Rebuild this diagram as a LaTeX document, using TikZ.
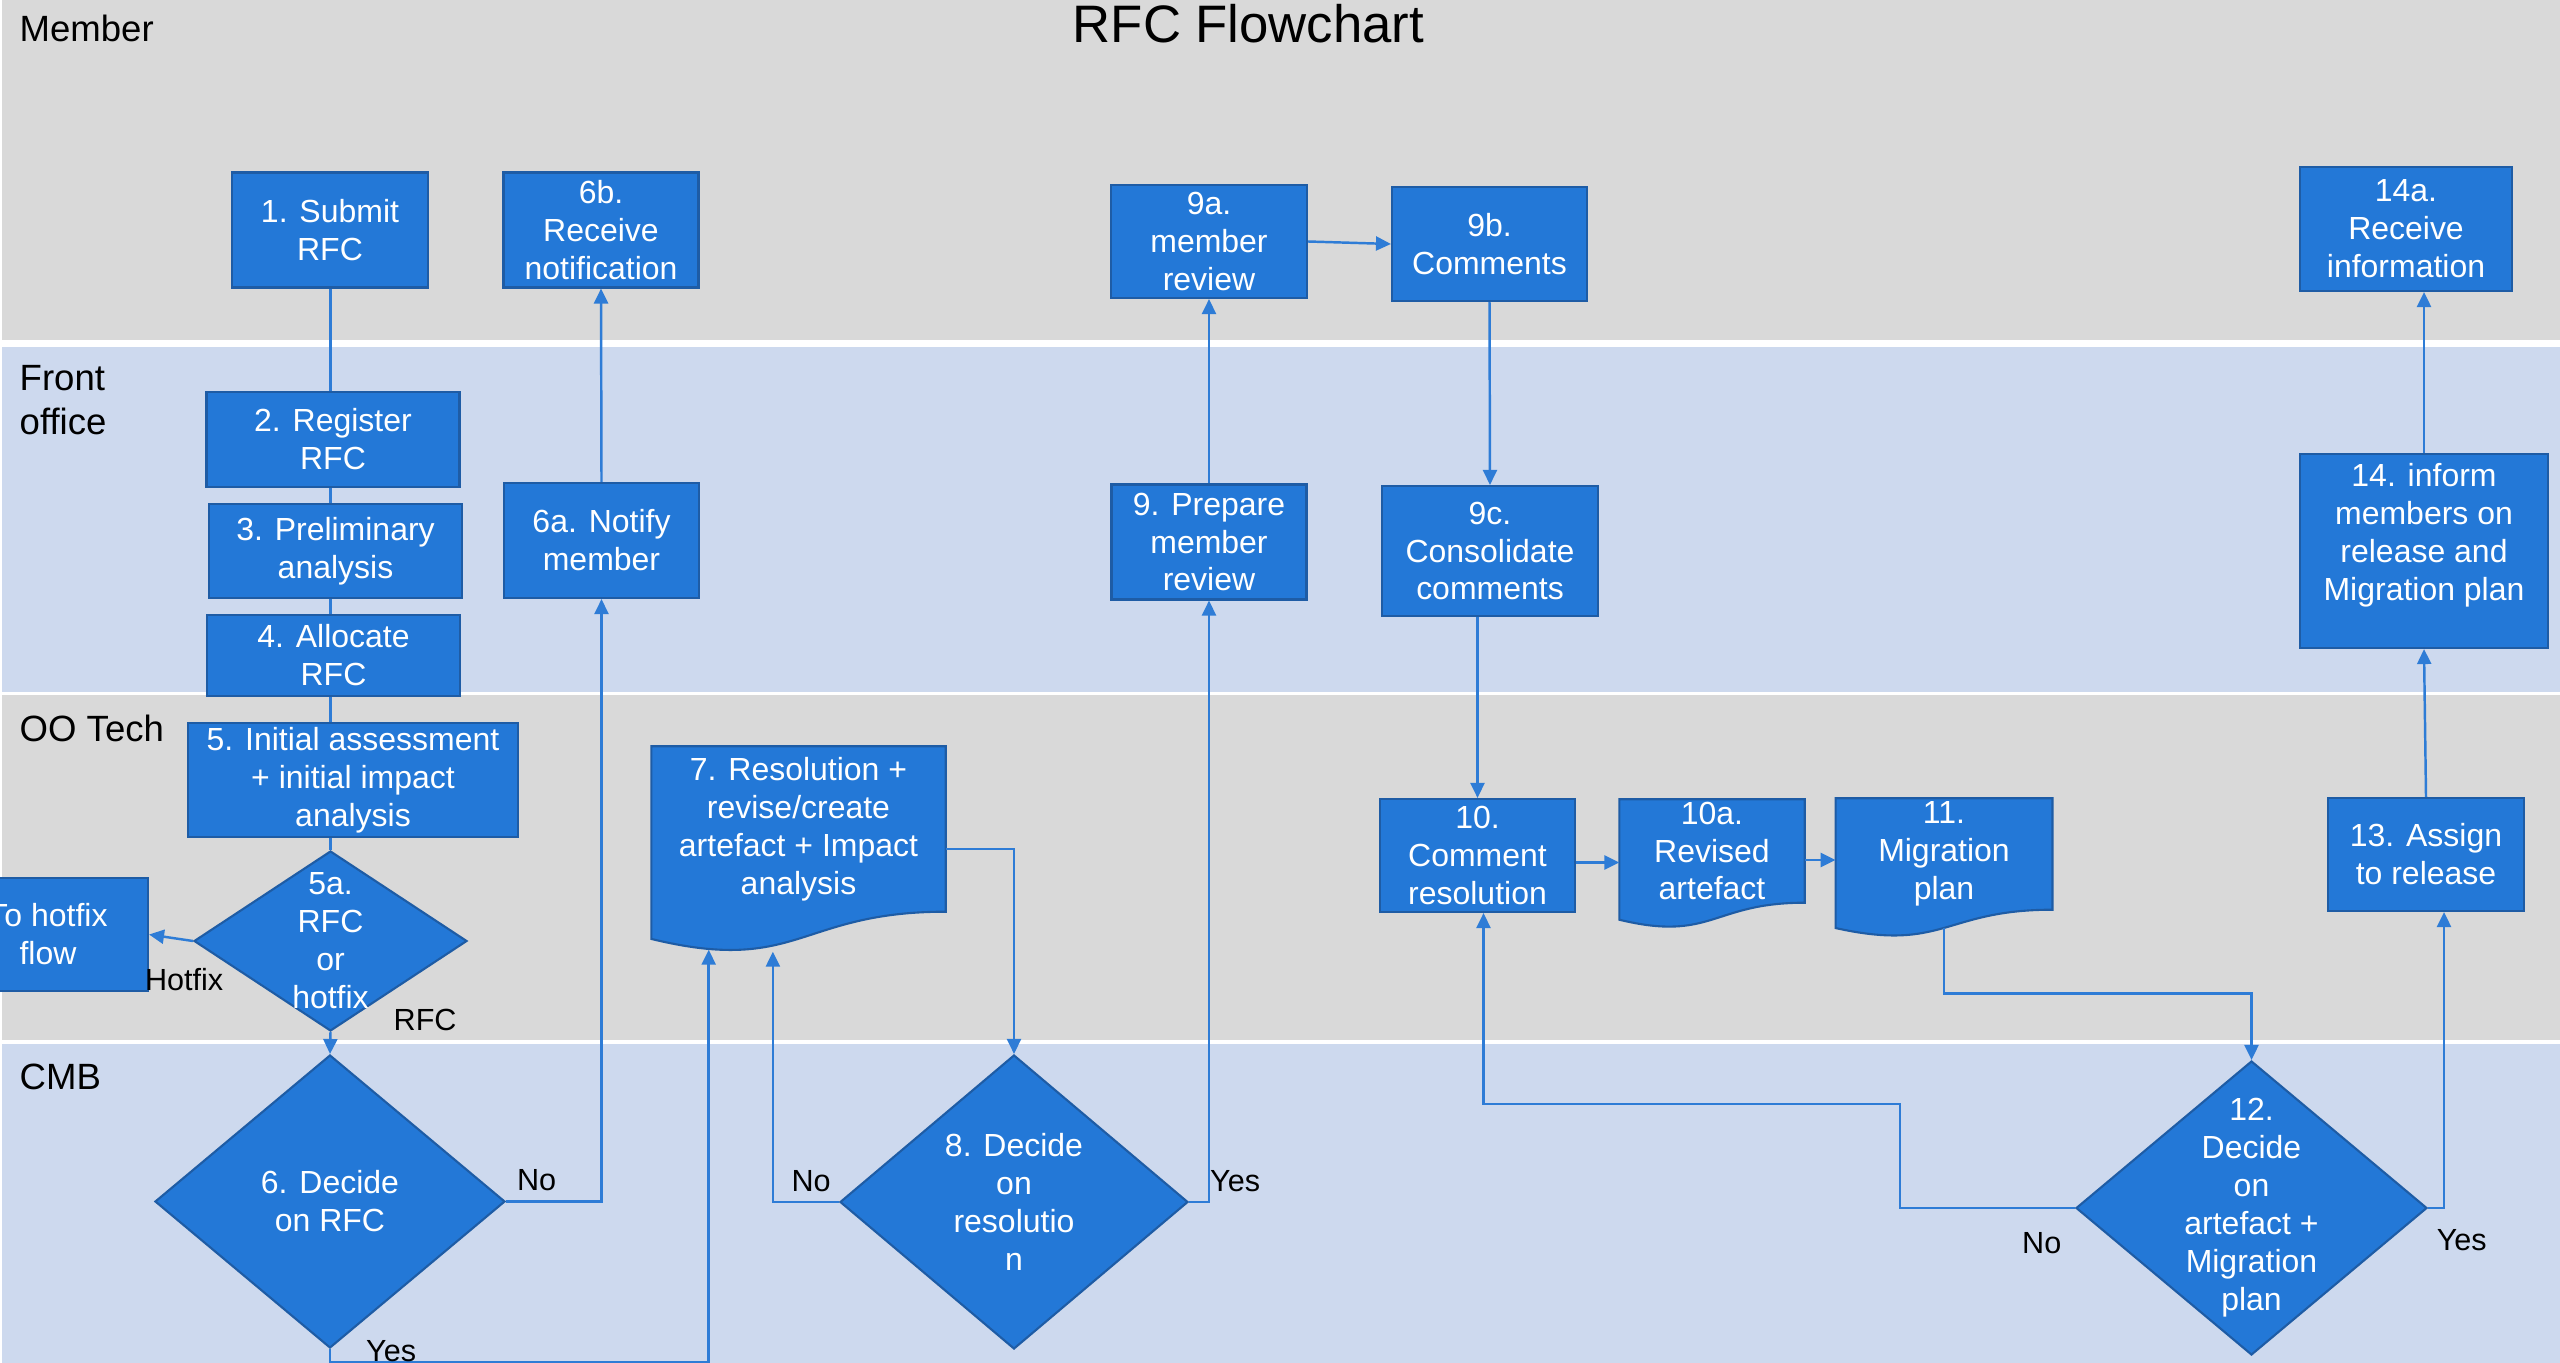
\documentclass[tikz,border=0pt]{standalone}
\usepackage{fontspec}
\setmainfont{Liberation Sans}
\usetikzlibrary{arrows.meta}
\usetikzlibrary{positioning}
\usetikzlibrary{calc}
\usetikzlibrary{shapes.geometric}

\definecolor{lanegray}{RGB}{217,217,217}
\definecolor{laneblue}{RGB}{205,217,238}
\definecolor{boxblue}{RGB}{35,120,215}
\definecolor{boxedge}{RGB}{30,92,165}
\definecolor{linkblue}{RGB}{46,124,214}

\begin{document}
\begin{tikzpicture}[
			stepbox/.style={rectangle, fill=boxblue, draw=boxedge, line width=0.6pt, text=white, align=center, inner sep=0pt, font=\fontsize{9.1}{10.8}\selectfont},
			docbox/.style={rectangle, fill=boxblue, draw=none, text=white, align=center, inner sep=0pt, font=\fontsize{9.1}{10.8}\selectfont},
			decision/.style={diamond, fill=boxblue, draw=boxedge, line width=0.6pt, inner sep=0pt},
			dtext/.style={text=white, align=center, inner sep=0pt, font=\fontsize{9.1}{10.8}\selectfont},
			lanename/.style={inner sep=0pt, anchor=base west, font=\fontsize{10.4}{12.5}\selectfont},
			lbl/.style={inner sep=0pt, text=black, font=\fontsize{8.7}{10.4}\selectfont},
			conn/.style={draw=linkblue, line width=0.7pt},
			connarr/.style={conn, arrows=-{Triangle[length=1.5mm, width=1.4mm]}},
			]
			
			\useasboundingbox (0,0) rectangle (25.6,-13.63);
			\clip (0,0) rectangle (25.6,-13.63);
			\fill[white] (0,0) rectangle (25.6,-13.63);
			
			% swim lanes
			\foreach \top/\bot/\col in {0/-3.40/lanegray, -3.47/-6.92/laneblue, -6.95/-10.40/lanegray, -10.44/-13.63/laneblue}
				\fill[\col] (0.02,\top) rectangle (25.6,\bot);
			
			\node[lanename]                              (l_member) at (0.19,-0.42)   {Member};
			\node[lanename, anchor=north west, align=left] (l_front) at (0.19,-3.645) {Front\\office};
			\node[lanename]                              (l_tech)   at (0.19,-7.41)   {OO Tech};
			\node[lanename]                              (l_cmb)    at (0.19,-10.89)  {CMB};
			\node[inner sep=0pt, anchor=base, font=\fontsize{15}{18}\selectfont] (title) at (12.485,-0.43) {RFC Flowchart};
			
			% steps
			\node[stepbox, minimum width=1.96cm, minimum height=1.15cm]   (s_1)   at (3.30,-2.30)    {1. Submit\\RFC};
			\node[stepbox, minimum width=1.95cm, minimum height=1.15cm]   (s_6b)  at (6.01,-2.30)    {6b.\\Receive\\notification};
			\node[stepbox, minimum width=2.53cm, minimum height=0.95cm]   (s_2)   at (3.33,-4.395)   {2. Register\\RFC};
			\node[stepbox, minimum width=2.53cm, minimum height=0.94cm]   (s_3)   at (3.355,-5.51)   {3. Preliminary\\analysis};
			\node[stepbox, minimum width=2.53cm, minimum height=0.81cm]   (s_4)   at (3.335,-6.555)  {4. Allocate\\RFC};
			\node[stepbox, minimum width=1.95cm, minimum height=1.15cm]   (s_6a)  at (6.015,-5.405)  {6a. Notify\\member};
			\node[stepbox, minimum width=3.30cm, minimum height=1.14cm]   (s_5)   at (3.53,-7.80)    {5. Initial assessment\\+ initial impact\\analysis};
			\node[stepbox, minimum width=2.00cm, minimum height=1.13cm]   (s_hf)  at (0.48,-9.345)   {To hotfix\\flow};
			\node[stepbox, minimum width=1.96cm, minimum height=1.13cm]   (s_9a)  at (12.09,-2.415)  {9a.\\member\\review};
			\node[stepbox, minimum width=1.95cm, minimum height=1.14cm]   (s_9b)  at (14.895,-2.44)  {9b.\\Comments};
			\node[stepbox, minimum width=1.95cm, minimum height=1.15cm]   (s_9)   at (12.09,-5.42)   {9. Prepare\\member\\review};
			\node[stepbox, minimum width=2.165cm, minimum height=1.30cm]  (s_9c)  at (14.90,-5.51)   {9c.\\Consolidate\\comments};
			\node[stepbox, minimum width=1.95cm, minimum height=1.13cm]   (s_10)  at (14.775,-8.555) {10.\\Comment\\resolution};
			\node[stepbox, minimum width=1.955cm, minimum height=1.13cm]  (s_13)  at (24.26,-8.545)  {13. Assign\\to release};
			\node[stepbox, minimum width=2.48cm, minimum height=1.94cm]   (s_14)  at (24.24,-5.51)   {14. inform\\members on\\release and\\Migration plan\\\mbox{}};
			\node[stepbox, minimum width=2.115cm, minimum height=1.24cm]  (s_14a) at (24.06,-2.29)   {14a.\\Receive\\information};
			
			% documents
			\node[docbox, minimum width=2.93cm, minimum height=1.64cm]    (s_7)   at (7.985,-8.29)   {7. Resolution +\\revise/create\\artefact + Impact\\analysis};
			\node[docbox, minimum width=1.84cm, minimum height=1.02cm]    (s_10a) at (17.12,-8.51)   {10a.\\Revised\\artefact};
			\node[docbox, minimum width=2.155cm, minimum height=1.10cm]   (s_11)  at (19.44,-8.54)   {11.\\Migration\\plan};
			
			% decisions
			\node[decision, minimum width=2.73cm, minimum height=1.80cm, label={[dtext]center:{5a.\\RFC\\or\\hotfix}}]                        (s_5a) at (3.305,-9.41)  {};
			\node[decision, minimum width=3.50cm, minimum height=2.93cm, label={[dtext]center:{6. Decide\\on RFC}}]                           (s_6)  at (3.30,-12.015) {};
			\node[decision, minimum width=3.48cm, minimum height=2.94cm, label={[dtext]center:{8. Decide\\on\\resolutio\\n}}]                  (s_8)  at (10.14,-12.02) {};
			\node[decision, minimum width=3.51cm, minimum height=2.94cm, label={[dtext]center:{12.\\Decide\\on\\artefact +\\Migration\\plan}}] (s_12) at (22.515,-12.08) {};
			
			% wavy bottom of the documents
			\foreach \dn in {s_7,s_10a,s_11} {
				\fill[boxblue] ([yshift=0.4pt]\dn.south east) -- (\dn.south east)
					.. controls (\dn.south) and ($(\dn.south)!-0.3815!(\dn.north)$) .. ($(\dn.south west)!-0.1646!(\dn.north west)$)
					-- ([yshift=0.4pt]\dn.south west) -- cycle;
				\draw[boxedge, line width=0.6pt] (\dn.north west) -- (\dn.north east) -- (\dn.south east)
					.. controls (\dn.south) and ($(\dn.south)!-0.3815!(\dn.north)$) .. ($(\dn.south west)!-0.1646!(\dn.north west)$) -- cycle;
			}
			
			% connectors
			\foreach \a/\b in {s_1/s_2, s_2/s_3, s_3/s_4, s_4/s_5, s_5/s_5a}
				\draw[conn] (\a.south -| s_5a.north) -- (\b.north -| s_5a.north);
			
			\draw[connarr] (s_5a.south)  -- node[lbl, pos=0, anchor=south west, xshift=6.2mm]   {RFC}    (s_6.north);
			\draw[connarr] (s_5a.west)   -- node[lbl, pos=0.2, anchor=north, yshift=-2.7mm]     {Hotfix} (s_hf.east);
			\draw[connarr] (s_6.east)    -| node[lbl, pos=0.16, anchor=south, yshift=0.9mm]     {No}     (s_6a.south);
			\draw[connarr] (s_6a.north)  -- (s_6b.south);
			\draw[connarr] (s_6.south)   -- node[lbl, pos=1, anchor=south west, xshift=3.5mm]   {Yes}    ++(0,-0.135)
				-| ($(s_7.south west)!0.195!(s_7.south east)+(0,-0.38)$);
			\draw[connarr] ([yshift=-2mm]s_7.east) -| (s_8.north);
			\draw[connarr] (s_8.west)    -| node[lbl, pos=0.21, anchor=south, yshift=0.9mm]     {No}
				($(s_7.south west)!0.413!(s_7.south east)+(0,-0.40)$);
			\draw[connarr] (s_8.east)    -| node[lbl, pos=0.5, anchor=south west, yshift=0.9mm] {Yes}    (s_9.south);
			\draw[connarr] (s_9.north)   -- (s_9a.south);
			\draw[connarr] (s_9a.east)   -- (s_9b.west);
			\draw[connarr] (s_9b.south)  -- (s_9c.north);
			\draw[connarr] (s_9c.south -| s_10.north) -- (s_10.north);
			\draw[connarr] ([yshift=-0.7mm]s_10.east)  -- ([yshift=-0.7mm]s_10.east -| s_10a.west);
			\draw[connarr] ([yshift=-0.9mm]s_10a.east) -- ([yshift=-0.9mm]s_10a.east -| s_11.west);
			\draw[connarr] ($(s_11.south)+(0,-0.18)$) -- ++(0,-0.66) -| (s_12.north);
			\draw[connarr] (s_12.west)   -- node[lbl, pos=0.19, anchor=north, yshift=-2.3mm]    {No}     ++(-1.75,0)
				-- ++(0,1.04) -| ([xshift=0.6mm]s_10.south);
			\draw[connarr] (s_12.east)   -| node[lbl, pos=0, anchor=north west, xshift=0.75mm, yshift=-2mm] {Yes} ([xshift=1.8mm]s_13.south);
			\draw[connarr] (s_13.north)  -- (s_14.south);
			\draw[connarr] (s_14.north)  -- (s_14.north |- s_14a.south);
			
\end{tikzpicture}
\end{document}
